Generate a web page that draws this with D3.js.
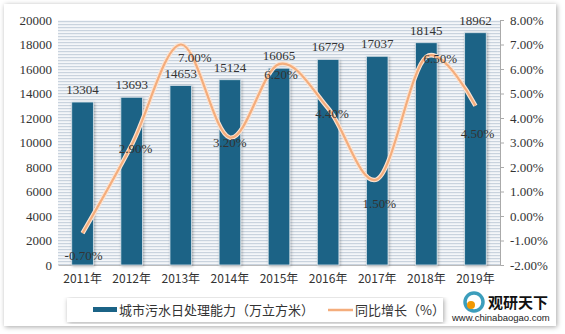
<!DOCTYPE html>
<html><head><meta charset="utf-8">
<script src="https://cdn.jsdelivr.net/npm/d3@7"></script>
<style>body{margin:0;background:#fff}svg{display:block}</style>
</head><body>
<script>
const years = ["2011年","2012年","2013年","2014年","2015年","2016年","2017年","2018年","2019年"];
const capacity = [13304,13693,14653,15124,16065,16779,17037,18145,18962];
const growth = [-0.70,2.90,7.00,3.20,6.20,4.40,1.50,6.50,4.50];
const leftTicks = [0,2000,4000,6000,8000,10000,12000,14000,16000,18000,20000];
const rightTicks = [-2,-1,0,1,2,3,4,5,6,7,8];
// label offsets (style) for growth labels
const growthLabelOffsets = [[1,22],[4,3],[14,12],[0,4],[2,10],[4,5],[2,24],[14,1],[2,27]];

const W=565,H=334;
const svg=d3.select("body").append("svg").attr("width",W).attr("height",H);
const defs=svg.append("defs");
const sh=defs.append("filter").attr("id","sh").attr("x","-5%").attr("y","-5%").attr("width","110%").attr("height","110%");
sh.append("feGaussianBlur").attr("in","SourceAlpha").attr("stdDeviation",2.5);
sh.append("feOffset").attr("dx",1).attr("dy",1).attr("result","b");
sh.append("feFlood").attr("flood-color","#000").attr("flood-opacity",0.35);
sh.append("feComposite").attr("in2","b").attr("operator","in");
const m1=sh.append("feMerge");m1.append("feMergeNode");m1.append("feMergeNode").attr("in","SourceGraphic");
const bs=defs.append("filter").attr("id","bs").attr("x","-30%").attr("y","-5%").attr("width","160%").attr("height","110%");
bs.append("feGaussianBlur").attr("in","SourceAlpha").attr("stdDeviation",1.5);
bs.append("feOffset").attr("dx",1).attr("dy",1).attr("result","b");
bs.append("feFlood").attr("flood-color","#000").attr("flood-opacity",0.3);
bs.append("feComposite").attr("in2","b").attr("operator","in");
const m2=bs.append("feMerge");m2.append("feMergeNode");m2.append("feMergeNode").attr("in","SourceGraphic");
const pat=defs.append("pattern").attr("id","stripe").attr("patternUnits","userSpaceOnUse").attr("width",6).attr("height",3);
pat.append("rect").attr("width",6).attr("height",3).attr("fill","#f4f6f9");
pat.append("rect").attr("y",0).attr("width",6).attr("height",1.2).attr("fill","#c9d3de");

// outer panel
svg.append("rect").attr("x",4).attr("y",4).attr("width",552).attr("height",322).attr("fill","#fff").attr("filter","url(#sh)");

const L=58,R=500,T=20,B=265;
const x=d3.scaleBand().domain(years).range([L,R]).paddingInner(0.56).paddingOuter(0.28);
const yL=d3.scaleLinear().domain([0,20000]).range([B,T]);
const yR=d3.scaleLinear().domain([-2,8]).range([B,T]);

svg.append("rect").attr("x",L).attr("y",T).attr("width",R-L).attr("height",B-T).attr("fill","url(#stripe)");

const serif="'Liberation Serif','DejaVu Serif',serif";
const cjk="'Noto Sans CJK SC',sans-serif";

// left axis
const ga=svg.append("g").attr("transform",`translate(${L},0)`).call(d3.axisLeft(yL).tickValues(leftTicks).tickSize(0).tickPadding(6).tickFormat(d3.format("d")));
ga.select(".domain").remove();
ga.selectAll("text").attr("font-family",serif).attr("font-size",13).attr("fill","#333");
// right axis
const gr=svg.append("g").attr("transform",`translate(${R},0)`).call(d3.axisRight(yR).tickValues(rightTicks).tickSize(4).tickPadding(6).tickFormat(d=>d.toFixed(2)+"%"));
gr.select(".domain").attr("stroke","#aaa");
gr.selectAll("line").attr("stroke","#aaa");
gr.selectAll("text").attr("font-family",serif).attr("font-size",13).attr("fill","#333");
// x axis
const gx=svg.append("g").attr("transform",`translate(0,${B})`).call(d3.axisBottom(x).tickSize(0).tickPadding(9));
gx.select(".domain").attr("stroke","#bbb");
gx.selectAll("text").attr("font-family",cjk).attr("font-size",12).attr("fill","#333");

// bars
svg.append("g").selectAll("rect").data(capacity).join("rect")
 .attr("x",(d,i)=>x(years[i])).attr("y",d=>yL(d)).attr("width",x.bandwidth()).attr("height",d=>B-yL(d))
 .attr("fill","#1b6386").attr("stroke","#d7e2ea").attr("stroke-width",0.8).attr("filter","url(#bs)");
svg.append("g").selectAll("text").data(capacity).join("text")
 .attr("x",(d,i)=>x(years[i])+x.bandwidth()/2).attr("y",d=>yL(d)-8).attr("text-anchor","middle")
 .attr("font-family",serif).attr("font-size",13).attr("fill","#333").text(d=>d);

// line
const pts=growth.map((g,i)=>[x(years[i])+x.bandwidth()/2,yR(g)]);
const line=d3.line().curve(d3.curveCardinal.tension(0));
svg.append("path").attr("d",line(pts)).attr("fill","none").attr("stroke","#fbe3d2").attr("stroke-width",4.5);
svg.append("path").attr("d",line(pts)).attr("fill","none").attr("stroke","#f4ad7c").attr("stroke-width",2.2);
svg.append("g").selectAll("text").data(growth).join("text")
 .attr("x",(d,i)=>pts[i][0]+growthLabelOffsets[i][0]).attr("y",(d,i)=>pts[i][1]+growthLabelOffsets[i][1]+5)
 .attr("text-anchor","middle").attr("font-family",serif).attr("font-size",13).attr("fill","#333")
 .text(d=>d.toFixed(2)+"%");

// legend
const lg=svg.append("g");
lg.append("rect").attr("x",67).attr("y",298).attr("width",376).attr("height",24).attr("fill","#fff").attr("filter","url(#sh)");
lg.append("rect").attr("x",93).attr("y",307).attr("width",24).attr("height",5).attr("fill","#1b6386");
lg.append("text").attr("x",119).attr("y",315).attr("font-family",cjk).attr("font-size",13).attr("fill","#333").text("城市污水日处理能力（万立方米）");
lg.append("line").attr("x1",328).attr("x2",353).attr("y1",310).attr("y2",310).attr("stroke","#f4ad7c").attr("stroke-width",2.5);
lg.append("text").attr("x",355).attr("y",315).attr("font-family",cjk).attr("font-size",13).attr("fill","#333").text("同比增长（%）");

// watermark
const wm=svg.append("g");
wm.append("circle").attr("cx",474).attr("cy",302).attr("r",9).attr("fill","none").attr("stroke","#1a8db0").attr("stroke-width",3.5).attr("opacity",0.85);
wm.append("circle").attr("cx",471).attr("cy",305).attr("r",4).attr("fill","#f39800");
wm.append("text").attr("x",488).attr("y",308).attr("font-family",cjk).attr("font-weight","bold").attr("font-size",15).attr("fill","#111").text("观研天下");
wm.append("text").attr("x",452).attr("y",321).attr("font-family","'Liberation Sans',sans-serif").attr("font-size",9.5).attr("fill","#222").text("www.chinabaogao.com");
</script>
</body></html>
